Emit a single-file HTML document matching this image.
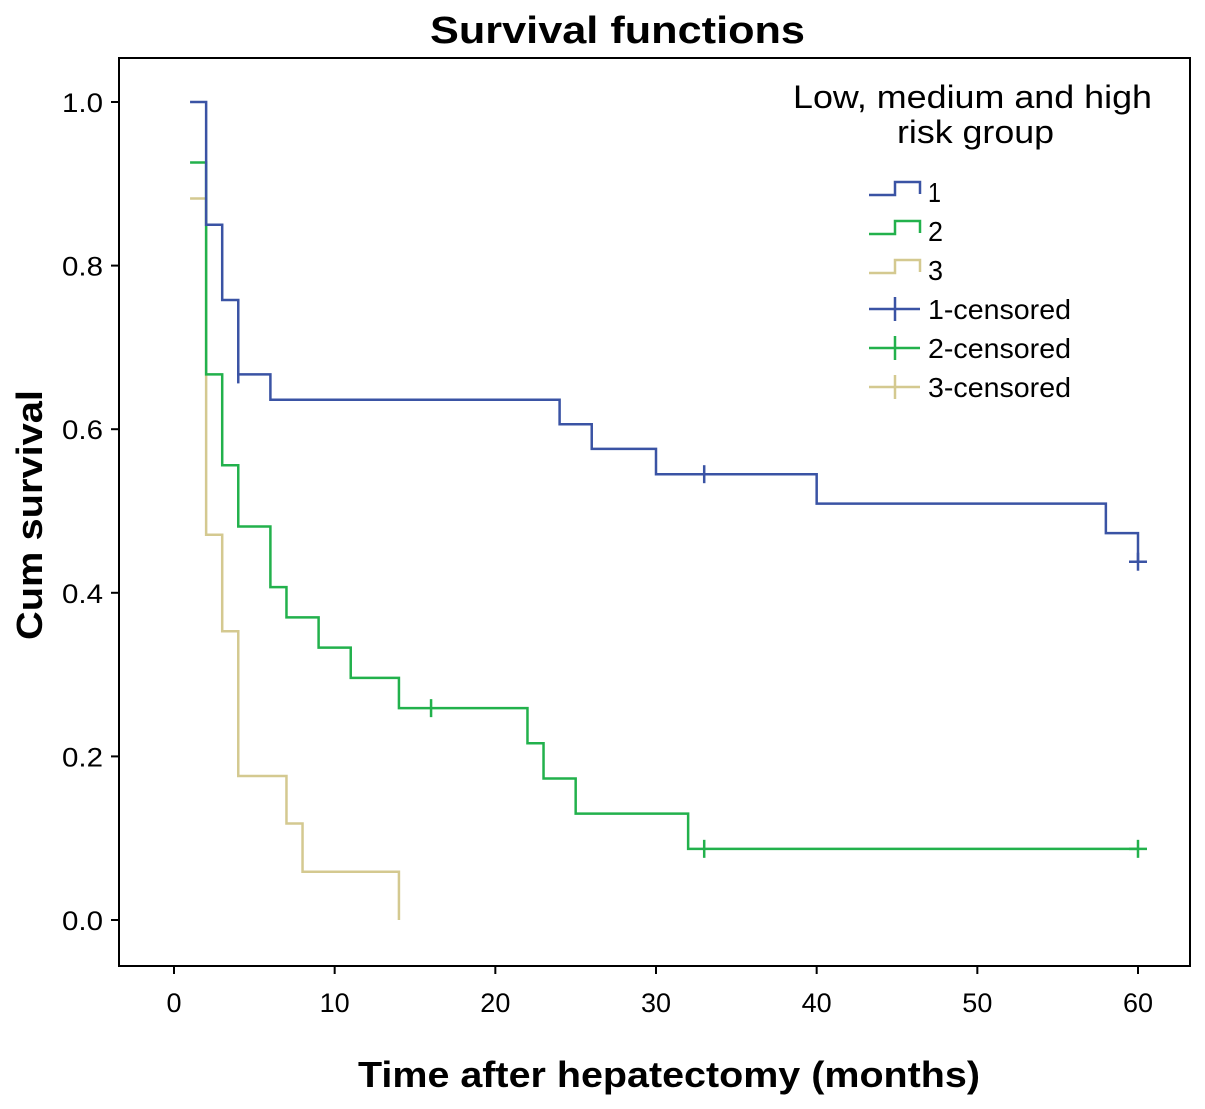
<!DOCTYPE html>
<html><head><meta charset="utf-8"><style>
html,body{margin:0;padding:0;background:#fff;}
svg text{font-family:"Liberation Sans",Arial,sans-serif;}
</style></head><body>
<svg id="chart" width="1205" height="1104" viewBox="0 0 1205 1104" xmlns="http://www.w3.org/2000/svg">
<rect x="0" y="0" width="1205" height="1104" fill="#fff"/>
<text x="430" y="43" font-size="38" font-weight="bold" textLength="375" lengthAdjust="spacingAndGlyphs">Survival functions</text>
<rect x="119" y="58" width="1071" height="908" fill="none" stroke="#000" stroke-width="2"/>
<g id="axes"></g>
<g id="series"></g>
<text transform="translate(42,640) rotate(-90)" font-size="36" font-weight="bold" textLength="250" lengthAdjust="spacingAndGlyphs">Cum survival</text>
<text x="358" y="1087" font-size="36" font-weight="bold" textLength="622" lengthAdjust="spacingAndGlyphs">Time after hepatectomy (months)</text>
<g>
<text x="793" y="108" font-size="32" textLength="359" lengthAdjust="spacingAndGlyphs">Low, medium and high</text>
<text x="897" y="143" font-size="32" textLength="157" lengthAdjust="spacingAndGlyphs">risk group</text>
<g id="legend-items"></g>
</g>
</svg>
<script>
const xTicks = [0, 10, 20, 30, 40, 50, 60];
const yTicks = [0.0, 0.2, 0.4, 0.6, 0.8, 1.0];
const yTickLabels = ["0.0", "0.2", "0.4", "0.6", "0.8", "1.0"];
const seriesNames = ["1", "2", "3"];
const seriesColors = ["#3a53a4", "#22b14c", "#d4c990"];
const g1Times = [1, 2, 3, 4, 6, 24, 26, 30, 40, 58, 60];
const g1Surv = [1.0, 0.85, 0.758, 0.667, 0.636, 0.606, 0.576, 0.545, 0.509, 0.473, 0.438];
const g1Censor = [4, 33, 60];
const g2Times = [1, 2, 3, 4, 6, 7, 9, 11, 14, 22, 23, 25, 32, 60];
const g2Surv = [0.926, 0.667, 0.556, 0.481, 0.407, 0.370, 0.333, 0.296, 0.259, 0.216, 0.173, 0.130, 0.087, 0.087];
const g2Censor = [16, 33, 60];
const g3Times = [1, 2, 3, 4, 7, 8, 14];
const g3Surv = [0.882, 0.471, 0.353, 0.176, 0.118, 0.059, 0.0];
const g3Censor = [];

const NS = "http://www.w3.org/2000/svg";
function X(t){ return 174 + t * (1138 - 174) / 60; }
function Y(s){ return 920 - s * 818; }
function mk(tag, attrs, parent){
  const e = document.createElementNS(NS, tag);
  for (const k in attrs) e.setAttribute(k, attrs[k]);
  parent.appendChild(e);
  return e;
}
const axes = document.getElementById('axes');
xTicks.forEach(t => {
  const l = mk('line', {x1:X(t), x2:X(t), y1:966, y2:974, stroke:'#000', 'stroke-width':2}, axes);
  
  
  const tx = mk('text', {x:X(t), y:1012, 'font-size':27, 'text-anchor':'middle'}, axes);
  tx.textContent = String(t);
  
  
});
yTicks.forEach((v, i) => {
  const l = mk('line', {x1:111, x2:119, y1:Y(v), y2:Y(v), stroke:'#000', 'stroke-width':2}, axes);
  
  
  const tx = mk('text', {x:62, y:Y(v) + 10, 'font-size':27, textLength:41, lengthAdjust:'spacingAndGlyphs'}, axes);
  tx.textContent = yTickLabels[i];
  
  
});

function survAt(times, surv, t){
  let s = surv[0];
  for (let i = 1; i < times.length; i++) if (times[i] <= t) s = surv[i];
  return s;
}
const ser = document.getElementById('series');
function drawSeries(times, surv, censor, color, idx){
  let d = 'M' + X(times[0]) + ',' + Y(surv[0]);
  for (let i = 1; i < times.length; i++) {
    d += ' H' + X(times[i]) + ' V' + Y(surv[i]);
  }
  const p = mk('path', {d:d, fill:'none', stroke:color, 'stroke-width':2.5}, ser);
  
  
  censor.forEach(c => {
    const y = Y(survAt(times, surv, c));
    const m = mk('line', {x1:X(c), x2:X(c), y1:y - 9, y2:y + 9, stroke:color, 'stroke-width':2.5}, ser);
    
    
    if (c === times[times.length - 1]) {
      const h = mk('line', {x1:X(c) - 9, x2:X(c) + 9, y1:y, y2:y, stroke:color, 'stroke-width':2.5}, ser);
      
      
    }
  });
}
drawSeries(g3Times, g3Surv, g3Censor, seriesColors[2], 3);
drawSeries(g2Times, g2Surv, g2Censor, seriesColors[1], 2);
drawSeries(g1Times, g1Surv, g1Censor, seriesColors[0], 1);

const leg = document.getElementById('legend-items');
const legLabels = ["1", "2", "3", "1-censored", "2-censored", "3-censored"];
const legWidths = [13, 15, 15, 143, 143, 143];
legLabels.forEach((lab, i) => {
  const yc = 192 + i * 39;
  const col = seriesColors[i % 3];
  if (i < 3) {
    const p = mk('path', {d:'M869,' + (yc + 3) + ' H895 V' + (yc - 10) + ' H920 V' + (yc + 2), fill:'none', stroke:col, 'stroke-width':2.5}, leg);
    
    
  } else {
    const l = mk('path', {d:'M869,' + yc + ' H920 M895,' + (yc - 12) + ' V' + (yc + 12), fill:'none', stroke:col, 'stroke-width':2.5}, leg);
    
    
  }
  const t = mk('text', {x:928, y:yc + 10, 'font-size':28, textLength:legWidths[i], lengthAdjust:'spacingAndGlyphs'}, leg);
  t.textContent = lab;
  
  
});
</script>
</body></html>
